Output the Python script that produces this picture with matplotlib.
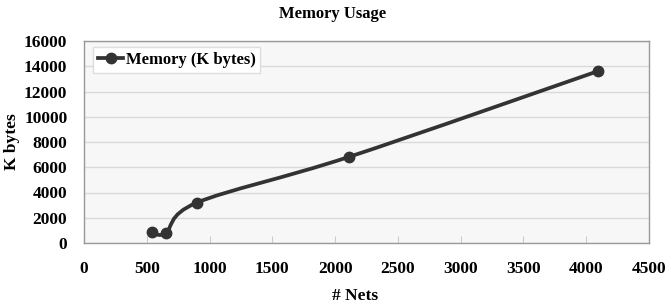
import matplotlib
matplotlib.use("Agg")
import matplotlib.pyplot as plt
from matplotlib.path import Path
from matplotlib.patches import PathPatch
from matplotlib.lines import Line2D
import numpy as np

nets = [540, 650, 900, 2110, 4090]
memory_kb = [900, 780, 3200, 6820, 13600]
x_ticks = [0, 500, 1000, 1500, 2000, 2500, 3000, 3500, 4000, 4500]
y_ticks = [0, 2000, 4000, 6000, 8000, 10000, 12000, 14000, 16000]

plt.rcParams['font.family'] = ['Liberation Serif', 'DejaVu Serif']
plt.rcParams['font.weight'] = 'bold'

fig = plt.figure(figsize=(6.65, 3.03), dpi=100)
ax = fig.add_axes([84/665, 1-243/303, (649-84)/665, (243-41)/303])
ax.set_facecolor('#f7f7f7')

ax.set_xlim(0, 4500)
ax.set_ylim(0, 16000)
ax.set_xticks(x_ticks)
ax.set_yticks(y_ticks)
ax.yaxis.grid(True, color='#d9d9d9', linewidth=1)
ax.set_axisbelow(True)
for s in ax.spines.values():
    s.set_color('#999999')
    s.set_linewidth(1)
ax.tick_params(axis='x', direction='in', length=5, color='#cccccc', labelsize=12.5, pad=13)
ax.tick_params(axis='y', length=0, labelsize=12.5, pad=12)
for lab in ax.get_xticklabels() + ax.get_yticklabels():
    lab.set_fontweight('bold')

# Smoothed line (Excel style Bezier through the points)
P = np.column_stack([nets, memory_kb]).astype(float)
n = len(P)
verts = [tuple(P[0])]
codes = [Path.MOVETO]
for i in range(n - 1):
    p0 = P[i - 1] if i > 0 else P[i]
    p1 = P[i]
    p2 = P[i + 1]
    p3 = P[i + 2] if i + 2 < n else P[i + 1]
    c1 = p1 + (p2 - p0) / 6.0
    c2 = p2 - (p3 - p1) / 6.0
    verts += [tuple(c1), tuple(c2), tuple(p2)]
    codes += [Path.CURVE4] * 3
patch = PathPatch(Path(verts, codes), facecolor='none', edgecolor='#333333', linewidth=2.7, zorder=3)
ax.add_patch(patch)
ax.plot(nets, memory_kb, linestyle='none', marker='o', markersize=7.5, color='#333333', zorder=4)

handle = Line2D([], [], color='#333333', linewidth=2.7, marker='o', markersize=7.5)
leg = ax.legend([handle], ['Memory (K bytes)'], loc='upper left', bbox_to_anchor=(0.016, 0.97),
                fontsize=12, frameon=True, fancybox=False, handlelength=1.5,
                handletextpad=0.15, borderpad=0.3, borderaxespad=0)
leg.get_frame().set_edgecolor('#dddddd')
leg.get_frame().set_facecolor('white')
leg.get_frame().set_alpha(1)
for t in leg.get_texts():
    t.set_fontweight('bold')

fig.text(333/665, 1-14/303, 'Memory Usage', ha='center', va='center', fontsize=12, fontweight='bold')
fig.text(355/665, 1-296/303, '# Nets', ha='center', va='center', fontsize=12.5, fontweight='bold')
fig.text(12/665, 1-142/303, 'K bytes', ha='center', va='center', rotation=90, fontsize=12.5, fontweight='bold')

fig.savefig('out.png', dpi=100)
